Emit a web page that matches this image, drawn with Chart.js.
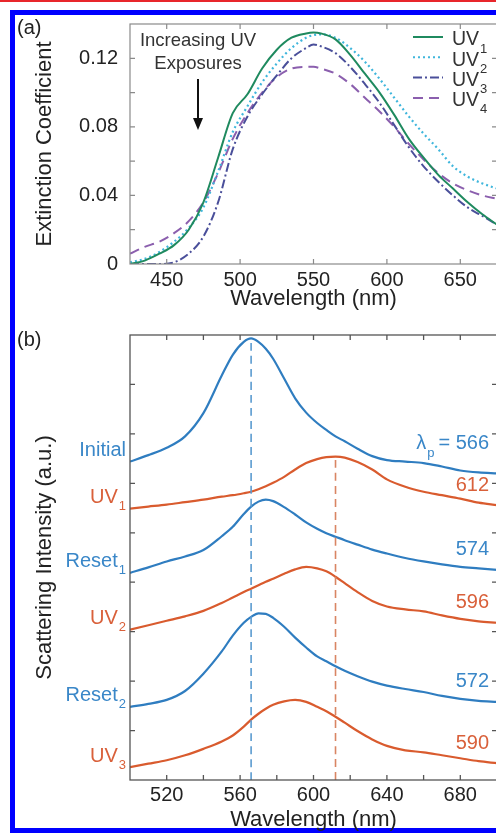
<!DOCTYPE html>
<html>
<head>
<meta charset="utf-8">
<script src="https://cdn.jsdelivr.net/npm/chart.js@4.4.0/dist/chart.umd.min.js"></script>
<style>
  html, body { margin: 0; padding: 0; background: #fff; overflow: hidden; }
  #page { position: relative; width: 496px; height: 833px; overflow: hidden; }
  #redline { position: absolute; left: 0; top: 0; width: 496px; height: 2px; background: #e8262b; }
  #frame { position: absolute; left: 10px; top: 10px; width: 600px; height: 823px; border: 5px solid #0000ff; border-right: none; box-sizing: border-box; }
  canvas { position: absolute; left: 0; }
  #chartA { top: 0; }
  #chartB { top: 310px; }
</style>
</head>
<body>
<div id="page">
  <div id="redline"></div>
  <div id="frame"></div>
  <canvas id="chartA" width="540" height="312" style="width:540px;height:312px"></canvas>
  <canvas id="chartB" width="540" height="523" style="width:540px;height:523px"></canvas>
</div>
<script>
// ---- panel (a): extinction spectra ----
const extWavelength = [425, 435, 445, 455, 465, 475, 485, 495, 505, 515, 525, 535, 545, 550, 555, 565, 575, 585, 595, 605, 615, 625, 635, 645, 655, 665, 675];
const extUV1 = [0.000, 0.002, 0.006, 0.011, 0.020, 0.036, 0.062, 0.088, 0.099, 0.114, 0.125, 0.132, 0.1345, 0.135, 0.1345, 0.131, 0.122, 0.111, 0.100, 0.087, 0.073, 0.062, 0.052, 0.044, 0.036, 0.029, 0.023];
const extUV2 = [0.001, 0.003, 0.007, 0.013, 0.021, 0.033, 0.054, 0.077, 0.092, 0.106, 0.117, 0.126, 0.132, 0.1335, 0.134, 0.132, 0.126, 0.118, 0.108, 0.097, 0.086, 0.076, 0.067, 0.057, 0.051, 0.047, 0.044];
const extUV3 = [0.000, 0.000, 0.000, 0.001, 0.006, 0.016, 0.036, 0.067, 0.086, 0.099, 0.110, 0.120, 0.126, 0.128, 0.127, 0.123, 0.115, 0.105, 0.094, 0.081, 0.068, 0.057, 0.048, 0.040, 0.033, 0.028, 0.023];
const extUV4 = [0.006, 0.010, 0.013, 0.018, 0.025, 0.036, 0.053, 0.073, 0.088, 0.100, 0.109, 0.114, 0.115, 0.115, 0.114, 0.111, 0.105, 0.097, 0.089, 0.080, 0.070, 0.061, 0.053, 0.047, 0.043, 0.040, 0.038];
const extLegendSubs = ['1', '2', '3', '4'];
const extXTicks = [450, 500, 550, 600, 650];
const extYTicks = [0, 0.04, 0.08, 0.12];

// ---- panel (b): scattering spectra (offset) ----
const scatWavelength = [500, 510, 520, 530, 540, 550, 556, 562, 566, 570, 574, 578, 584, 590, 596, 602, 607, 612, 617, 624, 632, 640, 650, 660, 670, 680, 690, 700];
const scatInitial = [6.44, 6.57, 6.72, 6.95, 7.42, 8.18, 8.60, 8.86, 8.93, 8.86, 8.72, 8.52, 8.12, 7.72, 7.43, 7.22, 7.08, 6.95, 6.85, 6.70, 6.55, 6.47, 6.44, 6.41, 6.34, 6.26, 6.22, 6.20];
const scatUV1 = [5.49, 5.53, 5.57, 5.62, 5.67, 5.73, 5.76, 5.80, 5.83, 5.88, 5.94, 6.01, 6.13, 6.28, 6.41, 6.49, 6.53, 6.54, 6.52, 6.43, 6.28, 6.08, 5.93, 5.83, 5.76, 5.69, 5.61, 5.56];
const scatReset1 = [4.19, 4.30, 4.42, 4.52, 4.65, 4.93, 5.12, 5.38, 5.53, 5.63, 5.67, 5.64, 5.52, 5.37, 5.21, 5.08, 4.99, 4.92, 4.85, 4.76, 4.66, 4.58, 4.49, 4.42, 4.36, 4.31, 4.28, 4.25];
const scatUV2 = [3.04, 3.13, 3.22, 3.31, 3.42, 3.58, 3.69, 3.80, 3.87, 3.94, 4.01, 4.07, 4.17, 4.26, 4.31, 4.28, 4.22, 4.11, 3.98, 3.80, 3.62, 3.51, 3.45, 3.41, 3.33, 3.26, 3.21, 3.18];
const scatReset2 = [1.48, 1.54, 1.62, 1.80, 2.15, 2.60, 2.92, 3.18, 3.30, 3.37, 3.36, 3.28, 3.10, 2.88, 2.68, 2.50, 2.40, 2.30, 2.21, 2.10, 1.99, 1.91, 1.84, 1.78, 1.70, 1.64, 1.60, 1.58];
const scatUV3 = [0.26, 0.33, 0.40, 0.50, 0.63, 0.78, 0.90, 1.08, 1.22, 1.34, 1.44, 1.52, 1.59, 1.62, 1.58, 1.48, 1.39, 1.28, 1.16, 0.99, 0.82, 0.69, 0.60, 0.56, 0.50, 0.44, 0.38, 0.34];
const scatNames = ['Initial', 'UV', 'Reset', 'UV', 'Reset', 'UV'];
const scatSubs = ['', '1', '1', '2', '2', '3'];
const scatPeaks = [566, 612, 574, 596, 572, 590];
const scatXTicks = [520, 560, 600, 640, 680];

const FONT = '"Liberation Sans", Arial, sans-serif';
const BLUE = '#2f7dc0';
const ORANGE = '#d95b2e';

function pts(xs, ys) {
    return xs.map((x, i) => ({x: x, y: ys[i]}));
}

function fixTicks(values) {
    return function(scale) {
        scale.ticks = values.map(v => ({value: v}));
    };
}

// draws the box and inward tick marks on all four sides
function boxPlugin(xMinor, yMinor, color, width) {
    return {
        id: 'box',
        afterDatasetsDraw(chart) {
            const ctx = chart.ctx;
            const a = chart.chartArea;
            const x = chart.scales.x, y = chart.scales.y;
            ctx.save();
            ctx.strokeStyle = color;
            ctx.lineWidth = width;
            ctx.setLineDash([]);
            ctx.strokeRect(a.left, a.top, a.right - a.left, a.bottom - a.top);
            ctx.beginPath();
            xMinor.forEach(v => {
                const px = x.getPixelForValue(v);
                ctx.moveTo(px, a.bottom); ctx.lineTo(px, a.bottom - 5);
                ctx.moveTo(px, a.top); ctx.lineTo(px, a.top + 5);
            });
            yMinor.forEach(v => {
                const py = y.getPixelForValue(v);
                ctx.moveTo(a.left, py); ctx.lineTo(a.left + 5, py);
                ctx.moveTo(a.right, py); ctx.lineTo(a.right - 5, py);
            });
            ctx.stroke();
            ctx.restore();
        }
    };
}

function textWithSub(ctx, main, sub, rightX, y, size, subSize, color) {
    ctx.fillStyle = color;
    ctx.textBaseline = 'middle';
    ctx.textAlign = 'left';
    ctx.font = subSize + 'px ' + FONT;
    const subW = sub ? ctx.measureText(sub).width + 1 : 0;
    ctx.font = size + 'px ' + FONT;
    const mainW = ctx.measureText(main).width;
    ctx.fillText(main, rightX - subW - mainW, y);
    if (sub) {
        ctx.font = subSize + 'px ' + FONT;
        ctx.fillText(sub, rightX - subW + 1, y + 9);
    }
}

// ---------- chart (a) ----------
const aMinorX = [450, 500, 550, 600, 650];
const aMinorY = [];
for (let v = 0.02; v < 0.139; v += 0.02) aMinorY.push(v);

const aExtras = {
    id: 'aExtras',
    afterDraw(chart) {
        const ctx = chart.ctx;
        ctx.save();
        ctx.fillStyle = '#222';
        ctx.font = '20px ' + FONT;
        ctx.textAlign = 'left';
        ctx.textBaseline = 'middle';
        ctx.fillText('(a)', 17, 28);

        // annotation
        ctx.fillStyle = '#333';
        ctx.font = '18.5px ' + FONT;
        ctx.textAlign = 'center';
        ctx.fillText('Increasing UV', 198, 41);
        ctx.fillText('Exposures', 198, 64);
        ctx.strokeStyle = '#111';
        ctx.lineWidth = 2;
        ctx.beginPath();
        ctx.moveTo(198, 79); ctx.lineTo(198, 120);
        ctx.stroke();
        ctx.fillStyle = '#111';
        ctx.beginPath();
        ctx.moveTo(193, 118); ctx.lineTo(203, 118); ctx.lineTo(198, 130);
        ctx.closePath(); ctx.fill();

        // legend
        chart.data.datasets.forEach((ds, i) => {
            const ly = 37 + i * 20.3;
            ctx.strokeStyle = ds.borderColor;
            ctx.lineWidth = 2;
            ctx.setLineDash(ds.borderDash || []);
            ctx.beginPath();
            ctx.moveTo(413, ly); ctx.lineTo(443, ly);
            ctx.stroke();
            ctx.setLineDash([]);
            ctx.fillStyle = '#333';
            ctx.font = '19.5px ' + FONT;
            ctx.textAlign = 'left';
            ctx.fillText('UV', 452, ly + 3);
            const w = ctx.measureText('UV').width;
            ctx.font = '13px ' + FONT;
            ctx.fillText(extLegendSubs[i], 452 + w + 1, ly + 12);
        });
        ctx.restore();
    }
};

new Chart(document.getElementById('chartA'), {
    type: 'line',
    data: {
        datasets: [
            {data: pts(extWavelength, extUV1), borderColor: '#1f8a5f', borderWidth: 2},
            {data: pts(extWavelength, extUV2), borderColor: '#3fb6dc', borderWidth: 2.2, borderDash: [2, 3]},
            {data: pts(extWavelength, extUV3), borderColor: '#4a4f9a', borderWidth: 2, borderDash: [9, 3, 2, 3]},
            {data: pts(extWavelength, extUV4), borderColor: '#8b5fae', borderWidth: 2, borderDash: [10, 6]}
        ]
    },
    options: {
        responsive: false,
        animation: false,
        events: [],
        layout: {padding: {left: 0, top: 20, right: 43, bottom: 0}},
        elements: {
            point: {radius: 0},
            line: {cubicInterpolationMode: 'monotone', fill: false}
        },
        plugins: {legend: {display: false}, tooltip: {enabled: false}},
        scales: {
            x: {
                type: 'linear', min: 425, max: 675,
                afterBuildTicks: fixTicks(extXTicks),
                afterFit: s => { s.height = 48; },
                grid: {display: false, drawTicks: false}, border: {display: false},
                ticks: {color: '#222', font: {family: FONT, size: 20}, padding: 4, maxRotation: 0},
                title: {display: true, text: 'Wavelength (nm)', color: '#222', font: {family: FONT, size: 22}, padding: {top: 0, bottom: 0}}
            },
            y: {
                type: 'linear', min: 0, max: 0.14,
                afterBuildTicks: fixTicks(extYTicks),
                afterFit: s => { s.width = 130; },
                grid: {display: false, drawTicks: false}, border: {display: false},
                ticks: {color: '#222', font: {family: FONT, size: 20}, padding: 12,
                        callback: v => v === 0 ? '0' : v.toFixed(2)},
                title: {display: true, text: 'Extinction Coefficient', color: '#222', font: {family: FONT, size: 22}, padding: {top: 32, bottom: 0}}
            }
        }
    },
    plugins: [boxPlugin(aMinorX, aMinorY, '#8a8a8a', 1.2), aExtras]
});

// ---------- chart (b) ----------
const bMinorX = [];
for (let v = 520; v < 700; v += 20) bMinorX.push(v);
const bMinorY = [1, 2, 3, 4, 5, 6, 7, 8];
const scatSeries = [scatInitial, scatUV1, scatReset1, scatUV2, scatReset2, scatUV3];
const scatColors = [BLUE, ORANGE, BLUE, ORANGE, BLUE, ORANGE];
const labelColors = ['#3a87c8', '#d9603a'];

const bExtras = {
    id: 'bExtras',
    afterDraw(chart) {
        const ctx = chart.ctx;
        const y = chart.scales.y;
        ctx.save();
        ctx.fillStyle = '#222';
        ctx.font = '20px ' + FONT;
        ctx.textAlign = 'left';
        ctx.textBaseline = 'middle';
        ctx.fillText('(b)', 17, 30);

        scatSeries.forEach((vals, i) => {
            const color = labelColors[i % 2];
            const yStart = y.getPixelForValue(vals[0]) - 11;
            textWithSub(ctx, scatNames[i], scatSubs[i], 126, yStart, 20, 13, color);
            const yEnd = y.getPixelForValue(vals[vals.length - 1]) - (i === 0 ? 30 : 20);
            ctx.font = '20px ' + FONT;
            ctx.textAlign = 'right';
            ctx.fillStyle = color;
            if (i === 0) {
                const txt = '= ' + scatPeaks[i];
                ctx.fillText(txt, 489, yEnd);
                const w = ctx.measureText(txt).width;
                ctx.font = '13px ' + FONT;
                ctx.fillText('p', 489 - w - 4, yEnd + 10);
                const pw = ctx.measureText('p').width;
                ctx.font = '20px ' + FONT;
                ctx.fillText('\u03bb', 489 - w - 5 - pw, yEnd);
            } else {
                ctx.fillText(String(scatPeaks[i]), 489, yEnd);
            }
        });
        ctx.restore();
    }
};

const iInit = scatWavelength.indexOf(scatPeaks[0]);
const iUV1 = scatWavelength.indexOf(scatPeaks[1]);

new Chart(document.getElementById('chartB'), {
    type: 'line',
    data: {
        datasets: [
            {data: [{x: scatPeaks[0], y: 0}, {x: scatPeaks[0], y: scatInitial[iInit]}], borderColor: '#5b9bd0', borderWidth: 1.6, borderDash: [8, 5]},
            {data: [{x: scatPeaks[1], y: 0}, {x: scatPeaks[1], y: scatUV1[iUV1]}], borderColor: '#d98563', borderWidth: 1.6, borderDash: [8, 5]}
        ].concat(scatSeries.map((vals, i) => ({
            data: pts(scatWavelength, vals), borderColor: scatColors[i], borderWidth: 2.2
        })))
    },
    options: {
        responsive: false,
        animation: false,
        events: [],
        layout: {padding: {left: 0, top: 25, right: 43, bottom: 0}},
        elements: {
            point: {radius: 0},
            line: {cubicInterpolationMode: 'monotone', fill: false}
        },
        plugins: {legend: {display: false}, tooltip: {enabled: false}},
        scales: {
            x: {
                type: 'linear', min: 500, max: 700,
                afterBuildTicks: fixTicks(scatXTicks),
                afterFit: s => { s.height = 53; },
                grid: {display: false, drawTicks: false}, border: {display: false},
                ticks: {color: '#222', font: {family: FONT, size: 20}, padding: 3, maxRotation: 0},
                title: {display: true, text: 'Wavelength (nm)', color: '#222', font: {family: FONT, size: 22}, padding: {top: 0, bottom: 0}}
            },
            y: {
                type: 'linear', min: 0, max: 9,
                afterFit: s => { s.width = 130; },
                grid: {display: false, drawTicks: false}, border: {display: false},
                ticks: {display: false},
                title: {display: true, text: 'Scattering Intensity (a.u.)', color: '#222', font: {family: FONT, size: 22}, padding: {top: 32, bottom: 0}}
            }
        }
    },
    plugins: [boxPlugin(bMinorX, bMinorY, '#555', 1.3), bExtras]
});
</script>
</body>
</html>
